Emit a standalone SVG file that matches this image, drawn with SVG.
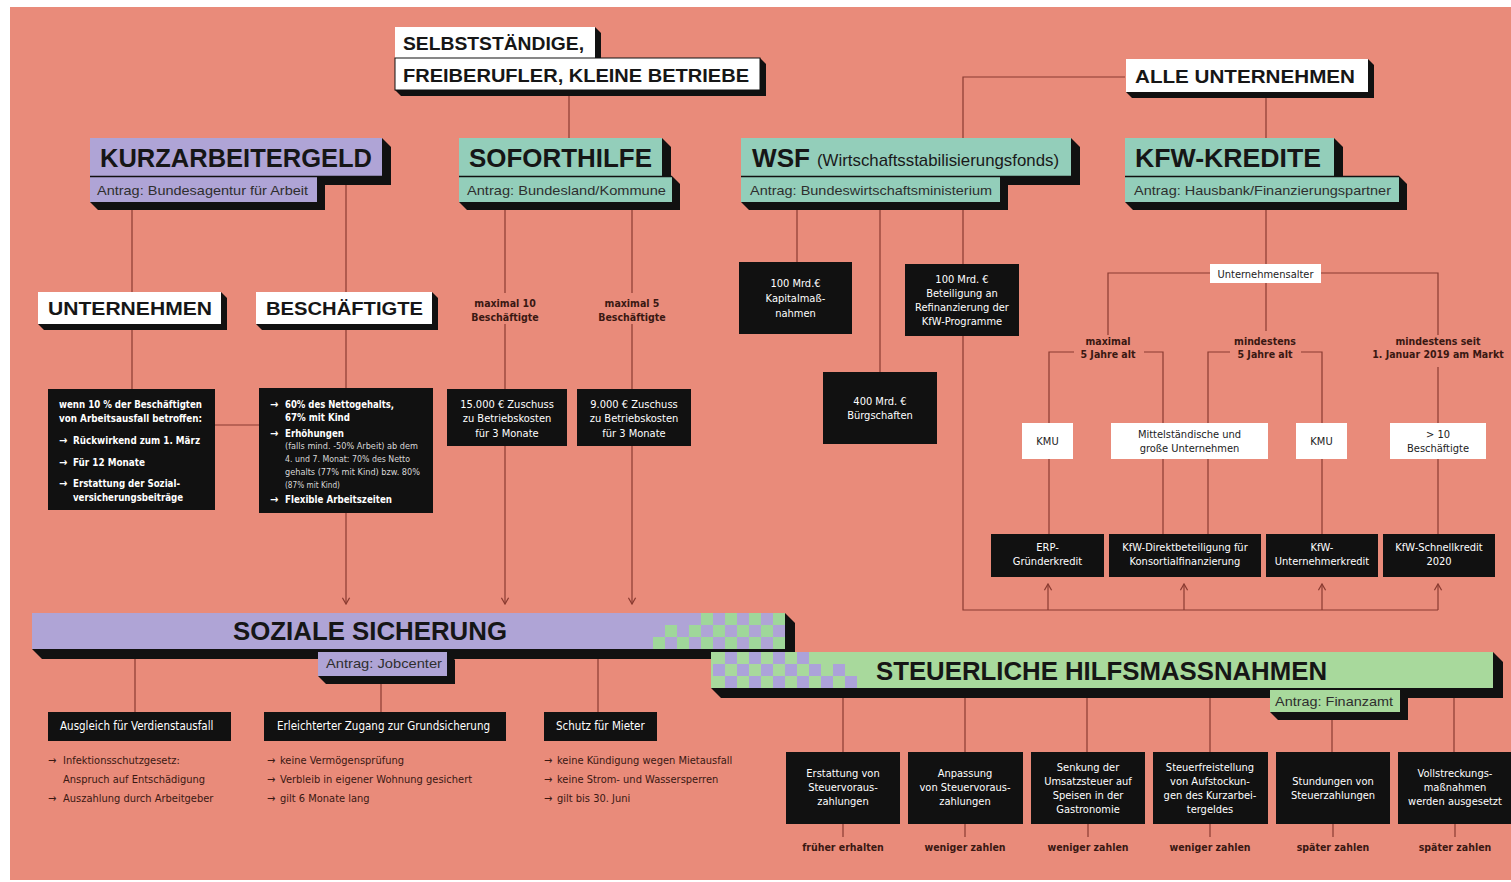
<svg xmlns="http://www.w3.org/2000/svg" width="1511" height="882" viewBox="0 0 1511 882">
<defs>
<style>
.ln{stroke:#8a3b31;stroke-width:1.2;fill:none}
.sh{fill:#111}
.lav{fill:#AFA4D6}
.teal{fill:#93CEBA}
.grn{fill:#A8D99C}
.wht{fill:#fff}
.blk{fill:#111}
.h1{font-family:"Liberation Sans",Arial,sans-serif;font-weight:700;font-size:26px;fill:#161616}
.h2{font-family:"Liberation Sans",Arial,sans-serif;font-weight:700;font-size:19px;fill:#161616}
.sub{font-family:"Liberation Sans",Arial,sans-serif;font-size:13.5px;fill:#2e2e2e}
.bt{font-family:"Liberation Sans Narrow","DejaVu Sans Condensed","Liberation Sans",sans-serif;font-size:11px;fill:#fff;text-anchor:middle}
.btl{font-family:"Liberation Sans Narrow","DejaVu Sans Condensed","Liberation Sans",sans-serif;font-size:11px;fill:#fff;font-weight:700}
.bts{font-family:"Liberation Sans Narrow","DejaVu Sans Condensed","Liberation Sans",sans-serif;font-size:8.6px;fill:#d8d8d8}
.wt{font-family:"Liberation Sans Narrow","DejaVu Sans Condensed","Liberation Sans",sans-serif;font-size:11px;fill:#222;text-anchor:middle}
.lb{font-family:"Liberation Sans Narrow","DejaVu Sans Condensed","Liberation Sans",sans-serif;font-size:10.5px;font-weight:700;fill:#3a1812;text-anchor:middle}
.bu{font-family:"Liberation Sans Narrow","DejaVu Sans Condensed","Liberation Sans",sans-serif;font-size:11px;fill:#3a1812}
.bx{font-family:"Liberation Sans Narrow","DejaVu Sans Condensed","Liberation Sans",sans-serif;font-size:11.5px;fill:#fff}
</style>
<marker id="ar" viewBox="0 0 10 10" refX="9" refY="5" markerWidth="9" markerHeight="9" markerUnits="userSpaceOnUse" orient="auto">
<path d="M2,1 L9,5 L2,9" fill="none" stroke="#8a3b31" stroke-width="1.4"/>
</marker>
</defs>

<rect x="0" y="0" width="1511" height="882" fill="#fff"/>
<rect x="10" y="7" width="1501" height="873" fill="#E98B7A"/>

<g id="connectors">
<line class="ln" x1="569" y1="95" x2="569" y2="138"/>
<polyline class="ln" points="1125,77 963,77 963,610 1438,610"/>
<line class="ln" x1="1266" y1="97" x2="1266" y2="138"/>
<line class="ln" x1="1048" y1="610" x2="1048" y2="584" marker-end="url(#ar)"/>
<line class="ln" x1="1184" y1="610" x2="1184" y2="584" marker-end="url(#ar)"/>
<line class="ln" x1="1322" y1="610" x2="1322" y2="584" marker-end="url(#ar)"/>
<line class="ln" x1="1438" y1="610" x2="1438" y2="584" marker-end="url(#ar)"/>
<line class="ln" x1="132" y1="210" x2="132" y2="292"/>
<line class="ln" x1="346" y1="185" x2="346" y2="292"/>
<line class="ln" x1="132" y1="328" x2="132" y2="389"/>
<line class="ln" x1="346" y1="328" x2="346" y2="389"/>
<line class="ln" x1="215" y1="425" x2="259" y2="425"/>
<line class="ln" x1="346" y1="513" x2="346" y2="604" marker-end="url(#ar)"/>
<line class="ln" x1="505" y1="210" x2="505" y2="293"/>
<line class="ln" x1="505" y1="324" x2="505" y2="389"/>
<line class="ln" x1="632" y1="210" x2="632" y2="293"/>
<line class="ln" x1="632" y1="324" x2="632" y2="389"/>
<line class="ln" x1="505" y1="446" x2="505" y2="604" marker-end="url(#ar)"/>
<line class="ln" x1="632" y1="446" x2="632" y2="604" marker-end="url(#ar)"/>
<line class="ln" x1="797" y1="210" x2="797" y2="262"/>
<line class="ln" x1="880" y1="210" x2="880" y2="372"/>
<line class="ln" x1="1266" y1="210" x2="1266" y2="264"/>
<polyline class="ln" points="1210,273 1108,273 1108,335"/>
<polyline class="ln" points="1321,273 1438,273 1438,335"/>
<line class="ln" x1="1266" y1="283" x2="1266" y2="331"/>
<polyline class="ln" points="1074,352 1049,352 1049,423"/>
<polyline class="ln" points="1144,352 1163,352 1163,423"/>
<polyline class="ln" points="1230,352 1208,352 1208,423"/>
<polyline class="ln" points="1301,352 1322,352 1322,423"/>
<line class="ln" x1="1438" y1="367" x2="1438" y2="423"/>
<line class="ln" x1="1049" y1="459" x2="1049" y2="534"/>
<line class="ln" x1="1163" y1="459" x2="1163" y2="534"/>
<line class="ln" x1="1208" y1="459" x2="1208" y2="534"/>
<line class="ln" x1="1322" y1="459" x2="1322" y2="534"/>
<line class="ln" x1="1438" y1="459" x2="1438" y2="534"/>
<line class="ln" x1="135" y1="658" x2="135" y2="712"/>
<line class="ln" x1="381" y1="683" x2="381" y2="712"/>
<line class="ln" x1="598" y1="658" x2="598" y2="712"/>
<line class="ln" x1="843" y1="697" x2="843" y2="752"/>
<line class="ln" x1="965" y1="697" x2="965" y2="752"/>
<line class="ln" x1="1087" y1="697" x2="1087" y2="752"/>
<line class="ln" x1="1210" y1="697" x2="1210" y2="752"/>
<line class="ln" x1="1332" y1="720" x2="1332" y2="752"/>
<line class="ln" x1="1454" y1="697" x2="1454" y2="752"/>
<line class="ln" x1="843" y1="824" x2="843" y2="837"/>
<line class="ln" x1="965" y1="824" x2="965" y2="837"/>
<line class="ln" x1="1088" y1="824" x2="1088" y2="837"/>
<line class="ln" x1="1210" y1="824" x2="1210" y2="837"/>
<line class="ln" x1="1333" y1="824" x2="1333" y2="837"/>
<line class="ln" x1="1455" y1="824" x2="1455" y2="837"/>
</g>

<g id="selbststaendige">
<polygon class="sh" points="395,27 595,27 601,33 601,64 401,64 395,58"/>
<polygon class="sh" points="395,58 760,58 766,64 766,96 401,96 395,90"/>
<rect class="wht" x="395" y="27" width="200" height="31"/>
<rect class="wht" x="395" y="58" width="365" height="32" stroke="#111" stroke-width="1"/>
<text class="h2" x="403" y="50" textLength="181" lengthAdjust="spacingAndGlyphs">SELBSTSTÄNDIGE,</text>
<text class="h2" x="403" y="82" textLength="346" lengthAdjust="spacingAndGlyphs">FREIBERUFLER, KLEINE BETRIEBE</text>
</g>

<g id="alle-unternehmen">
<polygon class="sh" points="1126,59 1368,59 1374,65 1374,98 1132,98 1126,92"/>
<rect class="wht" x="1126" y="59" width="242" height="33"/>
<text class="h2" x="1135" y="83" textLength="220" lengthAdjust="spacingAndGlyphs">ALLE UNTERNEHMEN</text>
</g>

<g id="kurzarbeitergeld">
<polygon class="sh" points="90,138 382,138 391,147 391,185 99,185 90,176"/>
<polygon class="sh" points="90,176 317,176 325,184 325,210 98,210 90,202"/>
<rect class="lav" x="90" y="138" width="292" height="38"/>
<rect class="lav" x="90" y="177" width="227" height="25"/>
<line x1="90" y1="176.5" x2="382" y2="176.5" stroke="#111" stroke-width="1.5"/>
<text class="h1" x="100" y="167" textLength="272" lengthAdjust="spacingAndGlyphs">KURZARBEITERGELD</text>
<text class="sub" x="97" y="195" textLength="211" lengthAdjust="spacingAndGlyphs">Antrag: Bundesagentur für Arbeit</text>
</g>

<g id="soforthilfe">
<polygon class="sh" points="459,138 662,138 671,147 671,185 468,185 459,176"/>
<polygon class="sh" points="459,176 672,176 680,184 680,210 467,210 459,202"/>
<rect class="teal" x="459" y="138" width="203" height="38"/>
<rect class="teal" x="459" y="177" width="213" height="25"/>
<line x1="459" y1="176.5" x2="672" y2="176.5" stroke="#111" stroke-width="1.5"/>
<text class="h1" x="469" y="167" textLength="183" lengthAdjust="spacingAndGlyphs">SOFORTHILFE</text>
<text class="sub" x="467" y="195" textLength="199" lengthAdjust="spacingAndGlyphs">Antrag: Bundesland/Kommune</text>
</g>

<g id="wsf">
<polygon class="sh" points="741,138 1071,138 1080,147 1080,185 750,185 741,176"/>
<polygon class="sh" points="741,176 1000,176 1008,184 1008,210 749,210 741,202"/>
<rect class="teal" x="741" y="138" width="330" height="38"/>
<rect class="teal" x="741" y="177" width="259" height="25"/>
<line x1="741" y1="176.5" x2="1071" y2="176.5" stroke="#111" stroke-width="1.5"/>
<text class="h1" x="752" y="167" textLength="58" lengthAdjust="spacingAndGlyphs">WSF</text>
<text x="817" y="166" font-family="Liberation Sans, Arial, sans-serif" font-size="17" fill="#1a1a1a" textLength="242" lengthAdjust="spacingAndGlyphs">(Wirtschaftsstabilisierungsfonds)</text>
<text class="sub" x="750" y="195" textLength="242" lengthAdjust="spacingAndGlyphs">Antrag: Bundeswirtschaftsministerium</text>
</g>

<g id="kfw-kredite">
<polygon class="sh" points="1125,138 1334,138 1343,147 1343,185 1134,185 1125,176"/>
<polygon class="sh" points="1125,176 1399,176 1407,184 1407,210 1133,210 1125,202"/>
<rect class="teal" x="1125" y="138" width="209" height="38"/>
<rect class="teal" x="1125" y="177" width="274" height="25"/>
<line x1="1125" y1="176.5" x2="1399" y2="176.5" stroke="#111" stroke-width="1.5"/>
<text class="h1" x="1135" y="167" textLength="186" lengthAdjust="spacingAndGlyphs">KFW-KREDITE</text>
<text class="sub" x="1134" y="195" textLength="257" lengthAdjust="spacingAndGlyphs">Antrag: Hausbank/Finanzierungspartner</text>
</g>

<g id="unternehmen">
<polygon class="sh" points="38,292 221,292 227,298 227,330 44,330 38,324"/>
<rect class="wht" x="38" y="292" width="183" height="32"/>
<text class="h2" x="48" y="315" font-size="20" textLength="164" lengthAdjust="spacingAndGlyphs">UNTERNEHMEN</text>
</g>

<g id="beschaeftigte">
<polygon class="sh" points="256,292 432,292 438,298 438,330 262,330 256,324"/>
<rect class="wht" x="256" y="292" width="176" height="32"/>
<text class="h2" x="266" y="315" font-size="20" textLength="157" lengthAdjust="spacingAndGlyphs">BESCHÄFTIGTE</text>
</g>

<g id="kug-unternehmen-box">
<rect class="blk" x="48" y="389" width="167" height="121"/>
<text class="btl" x="59" y="408" textLength="143" lengthAdjust="spacingAndGlyphs">wenn 10 % der Beschäftigten</text>
<text class="btl" x="59" y="422" textLength="143" lengthAdjust="spacingAndGlyphs">von Arbeitsausfall betroffen:</text>
<text class="btl" x="59" y="444">→</text><text class="btl" x="73" y="444" textLength="127" lengthAdjust="spacingAndGlyphs">Rückwirkend zum 1. März</text>
<text class="btl" x="59" y="466">→</text><text class="btl" x="73" y="466" textLength="72" lengthAdjust="spacingAndGlyphs">Für 12 Monate</text>
<text class="btl" x="59" y="487">→</text><text class="btl" x="73" y="487" textLength="107" lengthAdjust="spacingAndGlyphs">Erstattung der Sozial-</text>
<text class="btl" x="73" y="501" textLength="110" lengthAdjust="spacingAndGlyphs">versicherungsbeiträge</text>
</g>

<g id="kug-beschaeftigte-box">
<rect class="blk" x="259" y="388" width="174" height="125"/>
<text class="btl" x="270" y="408">→</text><text class="btl" x="285" y="408" textLength="109" lengthAdjust="spacingAndGlyphs">60% des Nettogehalts,</text>
<text class="btl" x="285" y="421" textLength="65" lengthAdjust="spacingAndGlyphs">67% mit Kind</text>
<text class="btl" x="270" y="437">→</text><text class="btl" x="285" y="437" textLength="59" lengthAdjust="spacingAndGlyphs">Erhöhungen</text>
<text class="bts" x="285" y="449" textLength="133" lengthAdjust="spacingAndGlyphs">(falls mind. -50% Arbeit) ab dem</text>
<text class="bts" x="285" y="462" textLength="125" lengthAdjust="spacingAndGlyphs">4. und 7. Monat: 70% des Netto</text>
<text class="bts" x="285" y="475" textLength="135" lengthAdjust="spacingAndGlyphs">gehalts (77% mit Kind) bzw. 80%</text>
<text class="bts" x="285" y="488" textLength="55" lengthAdjust="spacingAndGlyphs">(87% mit Kind)</text>
<text class="btl" x="270" y="503">→</text><text class="btl" x="285" y="503" textLength="107" lengthAdjust="spacingAndGlyphs">Flexible Arbeitszeiten</text>
</g>

<g id="soforthilfe-10">
<text class="lb" x="505" y="307">maximal 10</text>
<text class="lb" x="505" y="321">Beschäftigte</text>
<rect class="blk" x="447" y="389" width="120" height="57"/>
<text class="bt" x="507" y="408">15.000 € Zuschuss</text>
<text class="bt" x="507" y="422">zu Betriebskosten</text>
<text class="bt" x="507" y="437">für 3 Monate</text>
</g>

<g id="soforthilfe-5">
<text class="lb" x="632" y="307">maximal 5</text>
<text class="lb" x="632" y="321">Beschäftigte</text>
<rect class="blk" x="577" y="389" width="114" height="57"/>
<text class="bt" x="634" y="408">9.000 € Zuschuss</text>
<text class="bt" x="634" y="422">zu Betriebskosten</text>
<text class="bt" x="634" y="437">für 3 Monate</text>
</g>

<g id="wsf-kapital">
<rect class="blk" x="739" y="262" width="113" height="72"/>
<text class="bt" x="795.5" y="287">100 Mrd.€</text>
<text class="bt" x="795.5" y="302">Kapitalmaß-</text>
<text class="bt" x="795.5" y="317">nahmen</text>
</g>

<g id="wsf-beteiligung">
<rect class="blk" x="905" y="264" width="114" height="72"/>
<text class="bt" x="962" y="283">100 Mrd. €</text>
<text class="bt" x="962" y="297">Beteiligung an</text>
<text class="bt" x="962" y="311">Refinanzierung der</text>
<text class="bt" x="962" y="325">KfW-Programme</text>
</g>

<g id="wsf-buergschaften">
<rect class="blk" x="823" y="372" width="114" height="72"/>
<text class="bt" x="880" y="405">400 Mrd. €</text>
<text class="bt" x="880" y="419">Bürgschaften</text>
</g>

<g id="unternehmensalter">
<rect class="wht" x="1210" y="264" width="111" height="19"/>
<text class="wt" x="1265.5" y="277.5" font-size="10.5">Unternehmensalter</text>
</g>

<g id="labels-alter">
<text class="lb" x="1108" y="345">maximal</text>
<text class="lb" x="1108" y="358">5 Jahre alt</text>
<text class="lb" x="1265" y="345">mindestens</text>
<text class="lb" x="1265" y="358">5 Jahre alt</text>
<text class="lb" x="1438" y="345">mindestens seit</text>
<text class="lb" x="1438" y="358">1. Januar 2019 am Markt</text>
</g>

<g id="kmu-1">
<rect class="wht" x="1022" y="423" width="51" height="36"/>
<text class="wt" x="1047.5" y="445">KMU</text>
</g>
<g id="mittelstaendische">
<rect class="wht" x="1111" y="423" width="157" height="36"/>
<text class="wt" x="1189.5" y="438">Mittelständische und</text>
<text class="wt" x="1189.5" y="452">große Unternehmen</text>
</g>
<g id="kmu-2">
<rect class="wht" x="1296" y="423" width="51" height="36"/>
<text class="wt" x="1321.5" y="445">KMU</text>
</g>
<g id="mehr-10">
<rect class="wht" x="1390" y="423" width="96" height="36"/>
<text class="wt" x="1438" y="438">&gt; 10</text>
<text class="wt" x="1438" y="452">Beschäftigte</text>
</g>

<g id="erp">
<rect class="blk" x="991" y="534" width="113" height="43"/>
<text class="bt" x="1047.5" y="551">ERP-</text>
<text class="bt" x="1047.5" y="565">Gründerkredit</text>
</g>
<g id="kfw-direkt">
<rect class="blk" x="1109" y="534" width="152" height="43"/>
<text class="bt" x="1185" y="551">KfW-Direktbeteiligung für</text>
<text class="bt" x="1185" y="565">Konsortialfinanzierung</text>
</g>
<g id="kfw-unternehmer">
<rect class="blk" x="1266" y="534" width="112" height="43"/>
<text class="bt" x="1322" y="551">KfW-</text>
<text class="bt" x="1322" y="565">Unternehmerkredit</text>
</g>
<g id="kfw-schnell">
<rect class="blk" x="1383" y="534" width="112" height="43"/>
<text class="bt" x="1439" y="551">KfW-Schnellkredit</text>
<text class="bt" x="1439" y="565">2020</text>
</g>

<g id="soziale-sicherung">
<polygon class="sh" points="32,613 785,613 795,623 795,659 42,659 32,649"/>
<rect class="lav" x="32" y="613" width="753" height="36"/>
<g fill="#9FD79A">
<rect x="701" y="613" width="12" height="12"/><rect x="725" y="613" width="12" height="12"/><rect x="749" y="613" width="12" height="12"/><rect x="773" y="613" width="12" height="12"/>
<rect x="665" y="625" width="12" height="12"/><rect x="689" y="625" width="12" height="12"/><rect x="713" y="625" width="12" height="12"/><rect x="737" y="625" width="12" height="12"/><rect x="761" y="625" width="12" height="12"/>
<rect x="653" y="637" width="12" height="12"/><rect x="677" y="637" width="12" height="12"/><rect x="701" y="637" width="12" height="12"/><rect x="725" y="637" width="12" height="12"/><rect x="749" y="637" width="12" height="12"/><rect x="773" y="637" width="12" height="12"/>
</g>
<text class="h1" x="233" y="640" textLength="274" lengthAdjust="spacingAndGlyphs">SOZIALE SICHERUNG</text>
<polygon class="sh" points="318,652 447,652 455,660 455,684 326,684 318,676"/>
<rect class="lav" x="318" y="652" width="129" height="24"/>
<text class="sub" x="326" y="668" font-size="13" textLength="116" lengthAdjust="spacingAndGlyphs">Antrag: Jobcenter</text>
</g>

<g id="steuerliche-hilfsmassnahmen">
<polygon class="sh" points="711,652 1493,652 1503,662 1503,698 721,698 711,688"/>
<rect class="grn" x="711" y="652" width="782" height="36"/>
<g fill="#ACA2DA">
<rect x="725" y="652" width="12" height="12"/><rect x="749" y="652" width="12" height="12"/><rect x="773" y="652" width="12" height="12"/><rect x="797" y="652" width="12" height="12"/>
<rect x="713" y="664" width="12" height="12"/><rect x="737" y="664" width="12" height="12"/><rect x="761" y="664" width="12" height="12"/><rect x="785" y="664" width="12" height="12"/><rect x="809" y="664" width="12" height="12"/><rect x="833" y="664" width="12" height="12"/>
<rect x="725" y="676" width="12" height="12"/><rect x="749" y="676" width="12" height="12"/><rect x="773" y="676" width="12" height="12"/><rect x="797" y="676" width="12" height="12"/><rect x="821" y="676" width="12" height="12"/><rect x="845" y="676" width="12" height="12"/>
</g>
<text class="h1" x="876" y="680" textLength="451" lengthAdjust="spacingAndGlyphs">STEUERLICHE HILFSMASSNAHMEN</text>
<polygon class="sh" points="1270,690 1400,690 1408,698 1408,720 1278,720 1270,712"/>
<rect class="grn" x="1270" y="690" width="130" height="22"/>
<text class="sub" x="1275" y="706" font-size="13" textLength="118" lengthAdjust="spacingAndGlyphs">Antrag: Finanzamt</text>
</g>

<g id="ausgleich">
<rect class="blk" x="48" y="712" width="183" height="29"/>
<text class="bx" x="60" y="730">Ausgleich für Verdienstausfall</text>
<text class="bu" x="48" y="764">→</text><text class="bu" x="63" y="764">Infektionsschutzgesetz:</text>
<text class="bu" x="63" y="783">Anspruch auf Entschädigung</text>
<text class="bu" x="48" y="802">→</text><text class="bu" x="63" y="802">Auszahlung durch Arbeitgeber</text>
</g>

<g id="grundsicherung">
<rect class="blk" x="264" y="712" width="242" height="29"/>
<text class="bx" x="277" y="730">Erleichterter Zugang zur Grundsicherung</text>
<text class="bu" x="267" y="764">→</text><text class="bu" x="280" y="764">keine Vermögensprüfung</text>
<text class="bu" x="267" y="783">→</text><text class="bu" x="280" y="783">Verbleib in eigener Wohnung gesichert</text>
<text class="bu" x="267" y="802">→</text><text class="bu" x="280" y="802">gilt 6 Monate lang</text>
</g>

<g id="mieter">
<rect class="blk" x="544" y="712" width="113" height="29"/>
<text class="bx" x="556" y="730">Schutz für Mieter</text>
<text class="bu" x="544" y="764">→</text><text class="bu" x="557" y="764">keine Kündigung wegen Mietausfall</text>
<text class="bu" x="544" y="783">→</text><text class="bu" x="557" y="783">keine Strom- und Wassersperren</text>
<text class="bu" x="544" y="802">→</text><text class="bu" x="557" y="802">gilt bis 30. Juni</text>
</g>

<g id="steuer-1">
<rect class="blk" x="786" y="752" width="114" height="72"/>
<text class="bt" x="843" y="777">Erstattung von</text>
<text class="bt" x="843" y="791">Steuervoraus-</text>
<text class="bt" x="843" y="805">zahlungen</text>
<text class="lb" x="843" y="851">früher erhalten</text>
</g>
<g id="steuer-2">
<rect class="blk" x="908" y="752" width="115" height="72"/>
<text class="bt" x="965" y="777">Anpassung</text>
<text class="bt" x="965" y="791">von Steuervoraus-</text>
<text class="bt" x="965" y="805">zahlungen</text>
<text class="lb" x="965" y="851">weniger zahlen</text>
</g>
<g id="steuer-3">
<rect class="blk" x="1031" y="752" width="114" height="72"/>
<text class="bt" x="1088" y="771">Senkung der</text>
<text class="bt" x="1088" y="785">Umsatzsteuer auf</text>
<text class="bt" x="1088" y="799">Speisen in der</text>
<text class="bt" x="1088" y="813">Gastronomie</text>
<text class="lb" x="1088" y="851">weniger zahlen</text>
</g>
<g id="steuer-4">
<rect class="blk" x="1153" y="752" width="115" height="72"/>
<text class="bt" x="1210" y="771">Steuerfreistellung</text>
<text class="bt" x="1210" y="785">von Aufstockun-</text>
<text class="bt" x="1210" y="799">gen des Kurzarbei-</text>
<text class="bt" x="1210" y="813">tergeldes</text>
<text class="lb" x="1210" y="851">weniger zahlen</text>
</g>
<g id="steuer-5">
<rect class="blk" x="1276" y="752" width="114" height="72"/>
<text class="bt" x="1333" y="785">Stundungen von</text>
<text class="bt" x="1333" y="799">Steuerzahlungen</text>
<text class="lb" x="1333" y="851">später zahlen</text>
</g>
<g id="steuer-6">
<rect class="blk" x="1398" y="752" width="113" height="72"/>
<text class="bt" x="1455" y="777">Vollstreckungs-</text>
<text class="bt" x="1455" y="791">maßnahmen</text>
<text class="bt" x="1455" y="805">werden ausgesetzt</text>
<text class="lb" x="1455" y="851">später zahlen</text>
</g>
</svg>
